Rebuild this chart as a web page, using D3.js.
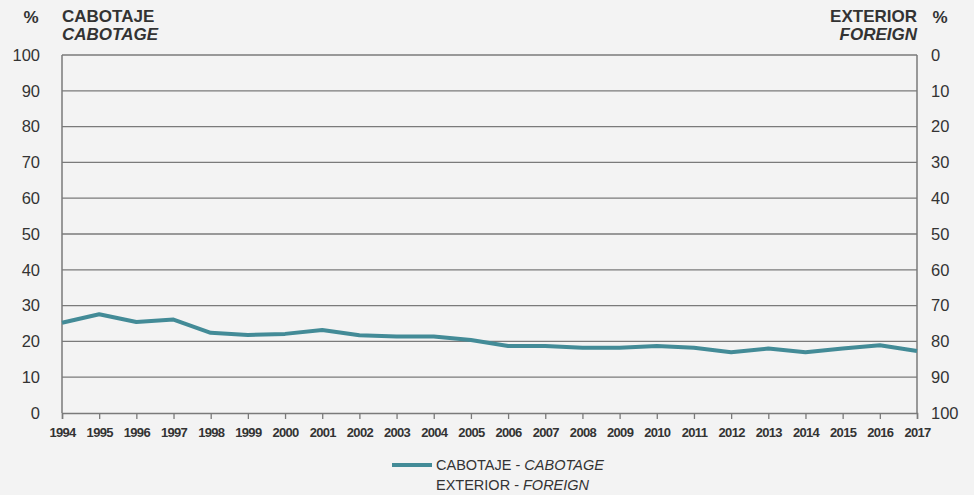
<!DOCTYPE html>
<html>
<head>
<meta charset="utf-8">
<script src="https://cdn.jsdelivr.net/npm/d3@7"></script>
<style>
  body { margin: 0; background: #f3f3f3; }
  text { font-family: "Liberation Sans", Arial, sans-serif; fill: #333; }
</style>
</head>
<body>
<div id="chart"></div>
<script>
var svgWidth = 974;
var svgHeight = 495;

var margin = { top: 55, right: 57, bottom: 82, left: 62 };
var width = svgWidth - margin.left - margin.right;
var height = svgHeight - margin.top - margin.bottom;

var years = [1994, 1995, 1996, 1997, 1998, 1999, 2000, 2001, 2002, 2003, 2004, 2005,
             2006, 2007, 2008, 2009, 2010, 2011, 2012, 2013, 2014, 2015, 2016, 2017];
var cabotaje = [25.2, 27.6, 25.4, 26.1, 22.4, 21.8, 22.1, 23.2, 21.7, 21.4, 21.4, 20.4,
                18.7, 18.7, 18.2, 18.2, 18.7, 18.2, 17.0, 18.0, 17.0, 18.0, 18.9, 17.3];
var leftTicks = [0, 10, 20, 30, 40, 50, 60, 70, 80, 90, 100];
var rightTicks = [100, 90, 80, 70, 60, 50, 40, 30, 20, 10, 0];

var data = years.map((y, i) => ({ year: y, value: cabotaje[i] }));

var svg = d3.select("#chart").append("svg")
    .attr("width", svgWidth).attr("height", svgHeight);

var chartGroup = svg.append("g")
    .attr("transform", `translate(${margin.left}, ${margin.top})`);

var xScale = d3.scaleLinear().domain([1994, 2017]).range([0, width]);
var yScale = d3.scaleLinear().domain([0, 100]).range([height, 0]);
var yRight = d3.scaleLinear().domain([100, 0]).range([height, 0]);

// gridlines
chartGroup.selectAll(".grid").data(leftTicks.filter(d => d > 0)).enter().append("line")
    .attr("x1", 0).attr("x2", width)
    .attr("y1", d => yScale(d)).attr("y2", d => yScale(d))
    .attr("stroke", "#7a7a7a").attr("stroke-width", 1.3);

// frame
chartGroup.append("line").attr("x1", 0).attr("x2", 0).attr("y1", 0).attr("y2", height)
    .attr("stroke", "#7a7a7a").attr("stroke-width", 1.5);
chartGroup.append("line").attr("x1", width).attr("x2", width).attr("y1", 0).attr("y2", height)
    .attr("stroke", "#7a7a7a").attr("stroke-width", 1.5);

// x axis
var bottomAxis = d3.axisBottom(xScale).tickValues(years).tickFormat(d3.format("d"))
    .tickSize(6).tickPadding(9);
var xg = chartGroup.append("g").attr("transform", `translate(0, ${height})`).call(bottomAxis);
xg.select(".domain").attr("stroke", "#7a7a7a").attr("stroke-width", 1.5);
xg.selectAll(".tick line").attr("stroke", "#7a7a7a").attr("stroke-width", 1.3);
xg.selectAll("text").attr("font-size", 13).attr("font-weight", "bold")
    .attr("letter-spacing", "-0.7").attr("fill", "#3a3a3a")
    .style("font-family", "'Liberation Sans', Arial, sans-serif");

// left y axis labels
var leftAxis = d3.axisLeft(yScale).tickValues(leftTicks).tickSize(0).tickPadding(22);
var lg = chartGroup.append("g").call(leftAxis);
lg.select(".domain").remove();
lg.selectAll("text").attr("font-size", 16.5).attr("fill", "#4a4a4a");

// right y axis labels
var rightAxis = d3.axisRight(yRight).tickValues(rightTicks).tickSize(0).tickPadding(14);
var rg = chartGroup.append("g").attr("transform", `translate(${width}, 0)`).call(rightAxis);
rg.select(".domain").remove();
rg.selectAll("text").attr("font-size", 16.5).attr("fill", "#4a4a4a");

// line
var line = d3.line().x(d => xScale(d.year)).y(d => yScale(d.value));
chartGroup.append("path").datum(data)
    .attr("d", line).attr("fill", "none")
    .attr("stroke", "#438b97").attr("stroke-width", 4)
    .attr("stroke-linejoin", "round");

// headers
svg.append("text").attr("x", 31).attr("y", 23).attr("text-anchor", "middle")
    .attr("font-size", 17).attr("font-weight", "bold").text("%");
svg.append("text").attr("x", 62).attr("y", 22)
    .attr("font-size", 17).attr("font-weight", "bold").text("CABOTAJE");
svg.append("text").attr("x", 62).attr("y", 40)
    .attr("font-size", 17).attr("font-weight", "bold").attr("font-style", "italic").text("CABOTAGE");

svg.append("text").attr("x", 940).attr("y", 23).attr("text-anchor", "middle")
    .attr("font-size", 17).attr("font-weight", "bold").text("%");
svg.append("text").attr("x", 917).attr("y", 22).attr("text-anchor", "end")
    .attr("font-size", 17).attr("font-weight", "bold").text("EXTERIOR");
svg.append("text").attr("x", 917).attr("y", 40).attr("text-anchor", "end")
    .attr("font-size", 17).attr("font-weight", "bold").attr("font-style", "italic").text("FOREIGN");

// legend
svg.append("line").attr("x1", 392).attr("x2", 432).attr("y1", 465).attr("y2", 465)
    .attr("stroke", "#438b97").attr("stroke-width", 4);
var l1 = svg.append("text").attr("x", 436).attr("y", 470).attr("font-size", 14.5).attr("fill", "#444");
l1.append("tspan").text("CABOTAJE - ");
l1.append("tspan").attr("font-style", "italic").text("CABOTAGE");
var l2 = svg.append("text").attr("x", 436).attr("y", 490).attr("font-size", 14.5).attr("fill", "#444");
l2.append("tspan").text("EXTERIOR - ");
l2.append("tspan").attr("font-style", "italic").text("FOREIGN");
</script>
</body>
</html>
